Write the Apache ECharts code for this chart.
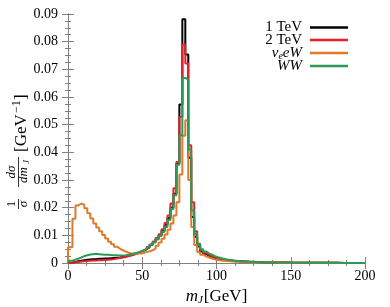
<!DOCTYPE html>
<html>
<head>
<meta charset="utf-8">
<script src="https://cdn.jsdelivr.net/npm/echarts@6/dist/echarts.min.js"></script>
<style>html,body{margin:0;padding:0;background:#fff}#c{width:390px;height:307px}</style>
</head>
<body>
<div id="c"></div>
<script>
const binWidth = 2; // GeV; value j is the bin centred at j*binWidth
const xTicks = [0, 50, 100, 150, 200];
const seriesNames = ['1 TeV', '2 TeV', 'nueW', 'WW'];
const oneTeV = [
0.0001,
0.0002,0.0004,0.0006,0.0008,0.0010,0.0012,0.0013,0.0014,0.0014,0.0015,
0.0015,0.0016,0.0016,0.0017,0.0018,0.0019,0.0020,0.0022,0.0024,0.0026,
0.0029,0.0032,0.0036,0.0040,0.0045,0.0050,0.0057,0.0065,0.0075,0.0087,
0.0100,0.0117,0.0138,0.0163,0.0200,0.0250,0.0360,0.0573,0.0881,0.0754,
0.0380,0.0166,0.0095,0.0060,0.0042,0.0033,0.0027,0.0022,0.0018,0.0015,
0.0013,0.0011,0.0010,0.0009,0.0008,0.0007,0.0006,0.00055,0.0005,0.00045,
0.0004,0.00036,0.00033,0.0003,0.00027,0.00025,0.00022,0.0002,0.00019,0.00017,
0.00016,0.00015,0.00014,0.00013,0.00012,0.00011,0.0001,0.0001,0.00009,0.00009,
0.00008,0.00008,0.00007,0.00007,0.00006,0.00006,0.00006,0.00005,0.00005,0.00005,
0.00004,0.00004,0.00004,0.00004,0.00003,0.00003,0.00003,0.00003,0.00003];
const twoTeV = [
0.0001,
0.0001,0.0003,0.0004,0.0005,0.0006,0.0007,0.0008,0.0009,0.0009,0.0010,
0.0010,0.0011,0.0012,0.0013,0.0014,0.0016,0.0018,0.0020,0.0022,0.0025,
0.0028,0.0031,0.0035,0.0040,0.0045,0.0050,0.0058,0.0067,0.0078,0.0090,
0.0104,0.0122,0.0145,0.0172,0.0215,0.0270,0.0365,0.0528,0.0790,0.0721,
0.0426,0.0220,0.0115,0.0070,0.0048,0.0037,0.0030,0.0024,0.0020,0.0017,
0.0014,0.0012,0.0010,0.0009,0.0008,0.0007,0.00062,0.00056,0.0005,0.00045,
0.00041,0.00037,0.00034,0.00031,0.00028,0.00026,0.00023,0.00021,0.0002,0.00018,
0.00017,0.00016,0.00015,0.00014,0.00013,0.00012,0.00011,0.0001,0.0001,0.00009,
0.00009,0.00008,0.00008,0.00007,0.00007,0.00006,0.00006,0.00006,0.00005,0.00005,
0.00005,0.00004,0.00004,0.00004,0.00004,0.00003,0.00003,0.00003,0.00003];
const nueW = [
0.0057,
0.0057,0.0160,0.0208,0.0215,0.0210,0.0198,0.0180,0.0161,0.0143,0.0128,
0.0115,0.0101,0.0089,0.0077,0.0068,0.0059,0.0052,0.0046,0.0041,0.0037,
0.0034,0.0033,0.0033,0.0034,0.0036,0.0040,0.0042,0.0046,0.0052,0.0062,
0.0074,0.0088,0.0103,0.0120,0.0143,0.0172,0.0220,0.0320,0.0460,0.0516,
0.0300,0.0130,0.0065,0.0040,0.0030,0.0024,0.0020,0.0016,0.0013,0.0011,
0.0009,0.0008,0.0007,0.0006,0.00055,0.0005,0.00045,0.0004,0.00036,0.00033,
0.0003,0.00027,0.00025,0.00022,0.0002,0.00019,0.00017,0.00016,0.00015,0.00014,
0.00013,0.00012,0.00011,0.0001,0.0001,0.00009,0.00009,0.00008,0.00008,0.00007,
0.00007,0.00006,0.00006,0.00006,0.00005,0.00005,0.00005,0.00004,0.00004,0.00004,
0.00004,0.00003,0.00003,0.00003,0.00003,0.00003,0.00002,0.00002,0.00002];
const WW = [
0.0005,
0.0008,0.0012,0.0016,0.0020,0.0025,0.0028,0.0031,0.0032,0.0033,0.0032,
0.0031,0.0030,0.0030,0.0029,0.0028,0.0028,0.0027,0.0027,0.0028,0.0030,
0.0032,0.0035,0.0038,0.0042,0.0046,0.0052,0.0058,0.0066,0.0075,0.0085,
0.0098,0.0112,0.0130,0.0155,0.0195,0.0245,0.0355,0.0462,0.0669,0.0663,
0.0410,0.0190,0.0105,0.0068,0.0050,0.0042,0.0035,0.0030,0.0025,0.0021,
0.0018,0.0015,0.0013,0.0011,0.0009,0.0008,0.0007,0.0006,0.00055,0.0005,
0.00045,0.00041,0.00037,0.00034,0.00031,0.00028,0.00026,0.00023,0.00021,0.0002,
0.00018,0.00017,0.00016,0.00015,0.00014,0.00013,0.00012,0.00011,0.0001,0.0001,
0.00009,0.00009,0.00008,0.00008,0.00007,0.00007,0.00006,0.00006,0.00006,0.00005,
0.00005,0.00005,0.00004,0.00004,0.00004,0.00004,0.00003,0.00003,0.00003];
const colors = ['#000000', '#e8202a', '#e07a28', '#2a9a5a'];

// histogram steps: bin j covers [j*w - w/2, j*w + w/2], clipped to [0, 200]
function toSteps(vals) {
  const pts = [[0, 0], [0, vals[0]]];
  for (let j = 1; j < vals.length; j++) pts.push([j * binWidth - binWidth / 2, vals[j]]);
  pts.push([200, vals[vals.length - 1]]);
  return pts;
}

const FONT = 'Liberation Serif';
const frame = '#808080';
const chart = echarts.init(document.getElementById('c'), null, {renderer: 'canvas'});

function xAx(pos, show) {
  return {
    type: 'value', position: pos, min: 0, max: 200, interval: 50,
    axisLine: {show: true, lineStyle: {color: frame, width: 1}},
    axisTick: {show: true, inside: true, length: 6, lineStyle: {color: frame}},
    minorTick: {show: true, splitNumber: 4, length: 3, lineStyle: {color: frame}},
    splitLine: {show: false}, minorSplitLine: {show: false},
    axisLabel: {show: show, color: '#000', fontFamily: FONT, fontSize: 14, margin: 6},
    name: show ? '{i|m}{s|J}{n|[GeV]}' : '',
    nameLocation: 'middle', nameGap: 24,
    nameTextStyle: {rich: {
      i: {fontFamily: FONT, fontStyle: 'italic', fontSize: 17, color: '#000'},
      s: {fontFamily: FONT, fontStyle: 'italic', fontSize: 11, color: '#000', padding: [8, 1, 0, 0]},
      n: {fontFamily: FONT, fontSize: 17, color: '#000'}
    }}
  };
}
function yAx(pos, show) {
  return {
    type: 'value', position: pos, min: 0, max: 0.09, interval: 0.01,
    axisLine: {show: true, lineStyle: {color: frame, width: 1}},
    axisTick: {show: true, inside: true, length: 6, lineStyle: {color: frame}},
    minorTick: {show: true, splitNumber: 4, length: 3, lineStyle: {color: frame}},
    splitLine: {show: false}, minorSplitLine: {show: false},
    axisLabel: {show: show, color: '#000', fontFamily: FONT, fontSize: 14, margin: 10,
      formatter: v => v === 0 ? '0' : v.toFixed(2)}
  };
}

const T = (text, x, y, font, align) => ({type: 'text', x: x, y: y,
  style: {text: text, font: font + ' ' + FONT, fill: '#000', textAlign: align || 'center', textVerticalAlign: 'middle'}});
const L = (x1, x2, y) => ({type: 'line', shape: {x1: x1, y1: y, x2: x2, y2: y}, style: {stroke: '#000', lineWidth: 0.8}});

const allData = [oneTeV, twoTeV, nueW, WW];
const option = {
  animation: false,
  grid: {left: 68, right: 25, top: 14, bottom: 44, containLabel: false, outerBoundsMode: 'none'},
  xAxis: [xAx('bottom', true), xAx('top', false)],
  yAxis: [yAx('left', true), yAx('right', false)],
  legend: {
    orient: 'vertical', right: 37, top: 15, itemGap: -2.5, align: 'right',
    icon: 'rect', itemWidth: 38, itemHeight: 2.5,
    data: seriesNames,
    formatter: n => n === 'nueW' ? '{i|ν}{s|e}{i|eW}' : (n === 'WW' ? '{i|WW}' : '{n|' + n + '}'),
    textStyle: {
      width: 60, align: 'right', fontFamily: FONT, fontSize: 15, color: '#000', lineHeight: 14, padding: [0, 3, 0, 0],
      rich: {
        n: {fontFamily: FONT, fontSize: 15, color: '#000', lineHeight: 14},
        i: {fontFamily: FONT, fontStyle: 'italic', fontSize: 15, color: '#000', lineHeight: 14},
        s: {fontFamily: FONT, fontStyle: 'italic', fontSize: 10, color: '#000', lineHeight: 14, padding: [6, 0, 0, 0]}
      }
    }
  },
  graphic: [{
    type: 'group', x: 22, y: 150, rotation: Math.PI / 2,
    children: [
      T('1', -54, -10, '13px'),
      L(-59, -49, -3.5),
      T('σ', -54, 2, 'italic 13px'),
      T('dσ', -22, -10, 'italic 13px'),
      L(-37, -7, -3.5),
      T('dm', -25, 2, 'italic 13px'),
      T('J', -12, 5, 'italic 9px'),
      T('[GeV', -2, 0, '17px', 'left'),
      T('−1', 37, -5, '12px', 'left'),
      T(']', 50, 0, '17px', 'left')
    ]
  }],
  series: allData.map((vals, k) => ({
    name: seriesNames[k], type: 'line', step: 'end', showSymbol: false,
    xAxisIndex: 0, yAxisIndex: 0,
    data: toSteps(vals),
    lineStyle: {color: colors[k], width: 2},
    itemStyle: {color: colors[k]},
    z: 2 + k
  }))
};
chart.setOption(option);
</script>
</body>
</html>
